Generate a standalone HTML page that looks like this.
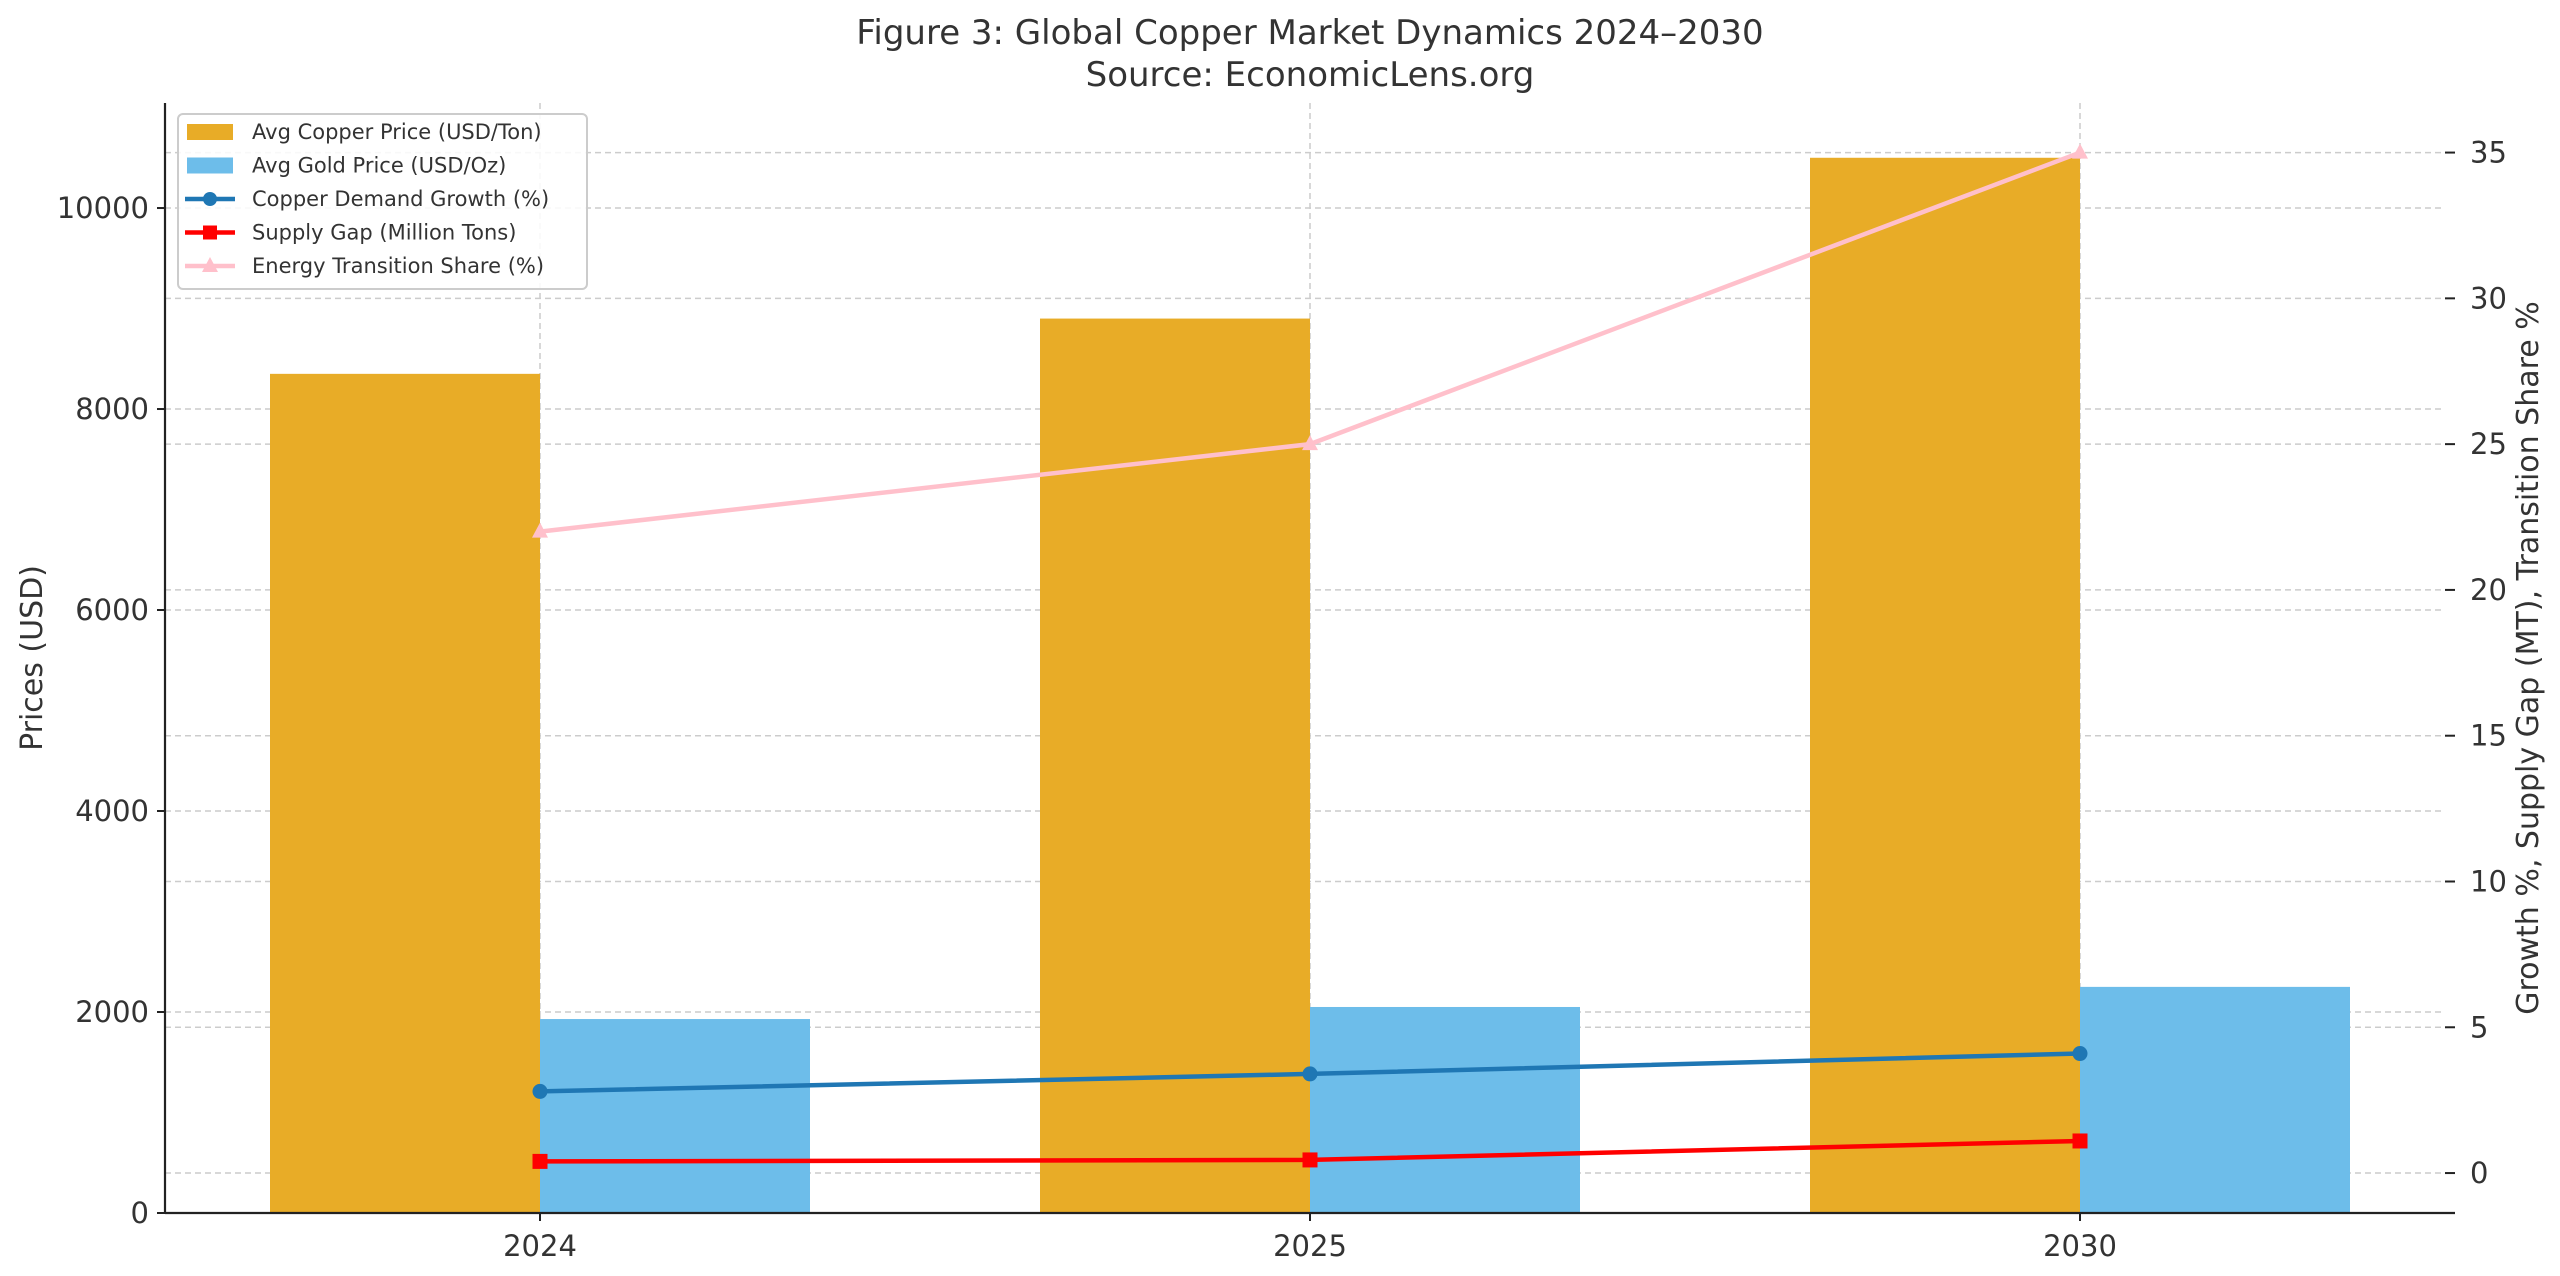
<!DOCTYPE html>
<html><head><meta charset="utf-8"><style>
html,body{margin:0;padding:0;background:#fff}
svg text{font-family:"DejaVu Sans","Liberation Sans",sans-serif;fill:#333}
</style></head><body>
<svg id="chart" width="2560" height="1271" viewBox="0 0 2560 1271" xmlns="http://www.w3.org/2000/svg">
<text x="1310" y="44" font-size="34" text-anchor="middle">Figure 3: Global Copper Market Dynamics 2024–2030</text>
<text x="1310" y="86" font-size="34" text-anchor="middle">Source: EconomicLens.org</text>
<g id="grid"></g><g id="bars"></g><g id="lines"></g><g id="axes"></g><g id="legend"></g>
</svg>
<script>
const categories=["2024","2025","2030"];
const copperPrice=[8350,8900,10500];
const goldPrice=[1930,2050,2250];
const demandGrowth=[2.8,3.4,4.1];
const supplyGap=[0.4,0.45,1.1];
const energyShare=[22,25,35];
const leftTicks=[0,2000,4000,6000,8000,10000];
const rightTicks=[0,5,10,15,20,25,30,35];

const NS="http://www.w3.org/2000/svg";
const L=165,R=2445,T=103,B=1213;
const yL=v=>B-(v/11045)*(B-T);
const rMin=-1.37,rMax=36.7;
const yR=v=>B-(v-rMin)/(rMax-rMin)*(B-T);
const xC=i=>540+i*770;
const bw=270;
function mk(tag,attrs,parent){const e=document.createElementNS(NS,tag);for(const k in attrs)e.setAttribute(k,attrs[k]);document.getElementById(parent).appendChild(e);return e;}

leftTicks.forEach(v=>{const e=mk('line',{x1:L,x2:R,y1:yL(v),y2:yL(v),stroke:'#ccc','stroke-width':1.5,'stroke-dasharray':'6,4'},'grid');

});
rightTicks.forEach(v=>{const e=mk('line',{x1:L,x2:R,y1:yR(v),y2:yR(v),stroke:'#ccc','stroke-width':1.5,'stroke-dasharray':'6,4'},'grid');

});
categories.forEach((c,i)=>{const e=mk('line',{x1:xC(i),x2:xC(i),y1:T,y2:B,stroke:'#ccc','stroke-width':1.5,'stroke-dasharray':'6,4'},'grid');

});

categories.forEach((c,i)=>{
 const a=mk('rect',{x:xC(i)-bw,y:yL(copperPrice[i]),width:bw,height:B-yL(copperPrice[i]),fill:'#e8ac27'},'bars');
 
 
 const b=mk('rect',{x:xC(i),y:yL(goldPrice[i]),width:bw,height:B-yL(goldPrice[i]),fill:'#6dbdea'},'bars');
 
 
});

function series(vals,color,name,marker){
 const pts=vals.map((v,i)=>xC(i)+','+yR(v)).join(' ');
 const p=mk('polyline',{points:pts,fill:'none',stroke:color,'stroke-width':4.5},'lines');
 
 
 vals.forEach((v,i)=>{let m;const x=xC(i),y=yR(v);
  if(marker==='o')m=mk('circle',{cx:x,cy:y,r:7.5,fill:color},'lines');
  else if(marker==='s')m=mk('rect',{x:x-7.5,y:y-7.5,width:15,height:15,fill:color},'lines');
  else m=mk('polygon',{points:`${x},${y-9} ${x+8},${y+6} ${x-8},${y+6}`,fill:color},'lines');
  
  });
}
series(energyShare,'#ffc0cb','energy-share','^');
series(demandGrowth,'#1f77b4','demand-growth','o');
series(supplyGap,'#ff0000','supply-gap','s');

[[L,T,L,B],[L,B,R+10,B]].forEach(s=>{const e=mk('line',{x1:s[0],y1:s[1],x2:s[2],y2:s[3],stroke:'#222','stroke-width':2.2},'axes');

});
leftTicks.forEach(v=>{mk('line',{x1:L-8,x2:L,y1:yL(v),y2:yL(v),stroke:'#222','stroke-width':2},'axes');
 const t=mk('text',{x:L-16,y:yL(v)+10,'font-size':29,'text-anchor':'end'},'axes');t.textContent=v;
 
 });
rightTicks.forEach(v=>{mk('line',{x1:R,x2:R+10,y1:yR(v),y2:yR(v),stroke:'#222','stroke-width':2},'axes');
 const t=mk('text',{x:R+25,y:yR(v)+10,'font-size':29},'axes');t.textContent=v;
 
 });
categories.forEach((c,i)=>{mk('line',{x1:xC(i),x2:xC(i),y1:B,y2:B+8,stroke:'#222','stroke-width':2},'axes');
 const t=mk('text',{x:xC(i),y:B+43,'font-size':29,'text-anchor':'middle'},'axes');t.textContent=c;
 
 });
let yt=mk('text',{x:0,y:0,'font-size':30,'text-anchor':'middle',transform:`translate(42,${(T+B)/2}) rotate(-90)`},'axes');yt.textContent='Prices (USD)';


let yt2=mk('text',{x:0,y:0,'font-size':30,'text-anchor':'middle',transform:`translate(2538,${(T+B)/2}) rotate(-90)`},'axes');yt2.textContent='Growth %, Supply Gap (MT), Transition Share %';



const lb=mk('rect',{x:178,y:114,width:409,height:175,rx:5,fill:'#fff','fill-opacity':0.85,stroke:'#ccc','stroke-width':2},'legend');


const items=[['Avg Copper Price (USD/Ton)','#e8ac27','bar'],['Avg Gold Price (USD/Oz)','#6dbdea','bar'],['Copper Demand Growth (%)','#1f77b4','o'],['Supply Gap (Million Tons)','#ff0000','s'],['Energy Transition Share (%)','#ffc0cb','^']];
items.forEach((it,i)=>{const y=132+i*33.5;
 if(it[2]==='bar')mk('rect',{x:187,y:y-8,width:46,height:16,fill:it[1]},'legend');
 else{mk('line',{x1:185,x2:235,y1:y,y2:y,stroke:it[1],'stroke-width':4.5},'legend');
  if(it[2]==='o')mk('circle',{cx:210,cy:y,r:7,fill:it[1]},'legend');
  else if(it[2]==='s')mk('rect',{x:203,y:y-7,width:14,height:14,fill:it[1]},'legend');
  else mk('polygon',{points:`210,${y-9} 218,${y+6} 202,${y+6}`,fill:it[1]},'legend');}
 const t=mk('text',{x:252,y:y+7,'font-size':21},'legend');t.textContent=it[0];
 
 });
</script>
</body></html>
